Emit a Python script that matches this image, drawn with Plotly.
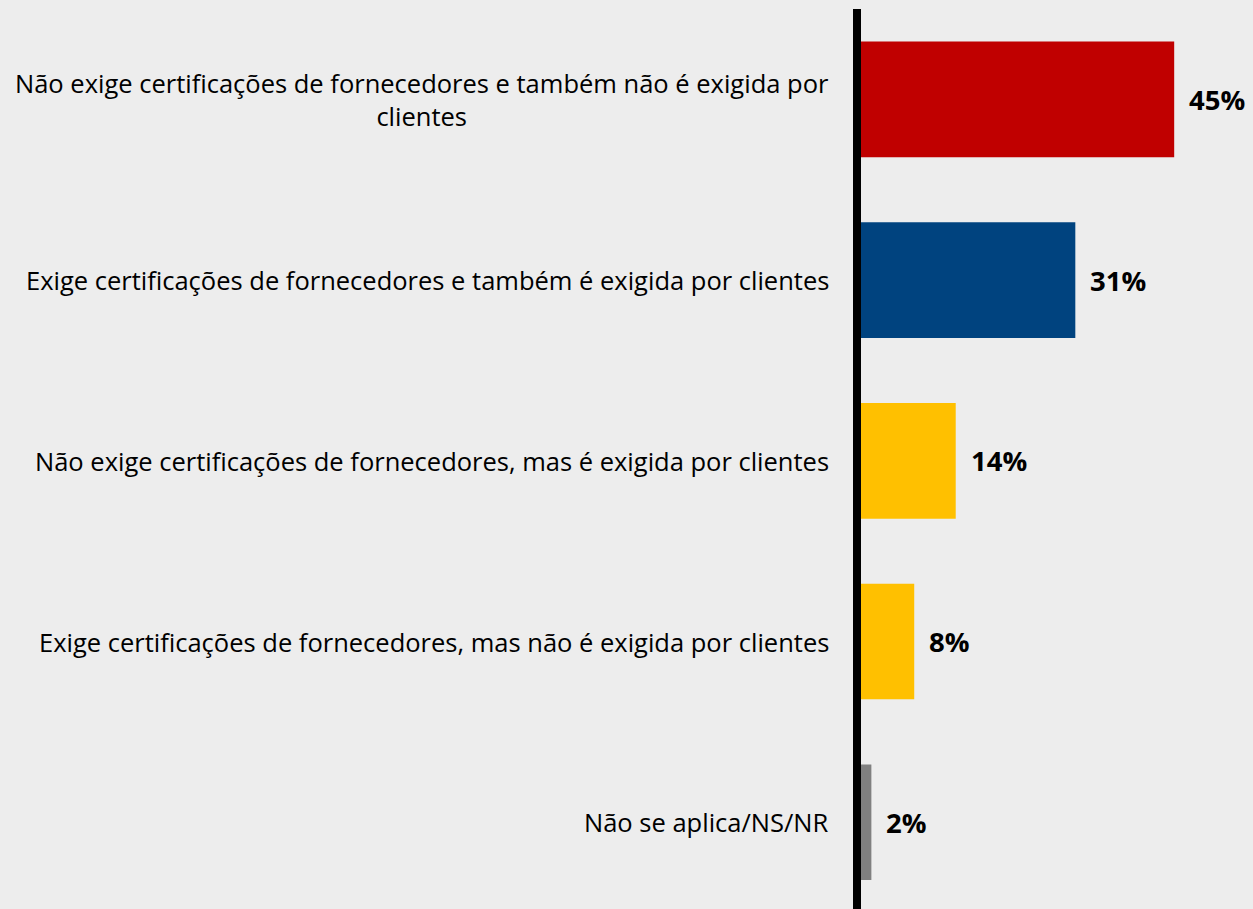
import plotly.graph_objects as go

categories = [
    "Não exige certificações de fornecedores e também não é exigida por<br>clientes",
    "Exige certificações de fornecedores e também é exigida por clientes",
    "Não exige certificações de fornecedores, mas é exigida por clientes",
    "Exige certificações de fornecedores, mas não é exigida por clientes",
    "Não se aplica/NS/NR",
]
values = [45.3, 31.0, 13.7, 7.7, 1.5]
labels = ["45%", "31%", "14%", "8%", "2%"]
colors = ["#C00000", "#00437F", "#FFC000", "#FFC000", "#808080"]

BG = "#EDEDED"
pos = list(range(len(categories)))

fig = go.Figure()
fig.add_trace(go.Bar(
    x=values, y=pos, orientation="h",
    marker=dict(color=colors, line=dict(width=0)),
    width=0.64, hoverinfo="skip",
))

annotations = []
for p, cat, v, lab in zip(pos, categories, values, labels):
    # category label, centred text block right-aligned to the axis
    annotations.append(dict(
        x=0, y=p, xref="paper", yref="y", text=cat, showarrow=False,
        xanchor="right", yanchor="middle", align="center", xshift=-30,
        font=dict(family="Open Sans", size=25.5, color="#000000"),
    ))
    # value label
    annotations.append(dict(
        x=v, y=p, xref="x", yref="y", text="<b>" + lab + "</b>", showarrow=False,
        xanchor="left", yanchor="middle", xshift=13,
        font=dict(family="Open Sans", size=27.5, color="#000000"),
    ))

fig.update_layout(
    width=1253, height=909,
    margin=dict(l=861, r=0, t=9, b=0),
    paper_bgcolor=BG, plot_bgcolor=BG,
    showlegend=False,
    annotations=annotations,
    xaxis=dict(range=[0, 56.7], visible=False, fixedrange=True),
    yaxis=dict(
        range=[4.48, -0.5], showticklabels=False, showgrid=False, zeroline=False,
        showline=True, linecolor="#000000", linewidth=8, ticks="", fixedrange=True,
    ),
)

# drop the default page margin so the chart fills the window
fig.write_html("out.html", config={"displayModeBar": False},
               post_script="document.body.style.margin='0';")
